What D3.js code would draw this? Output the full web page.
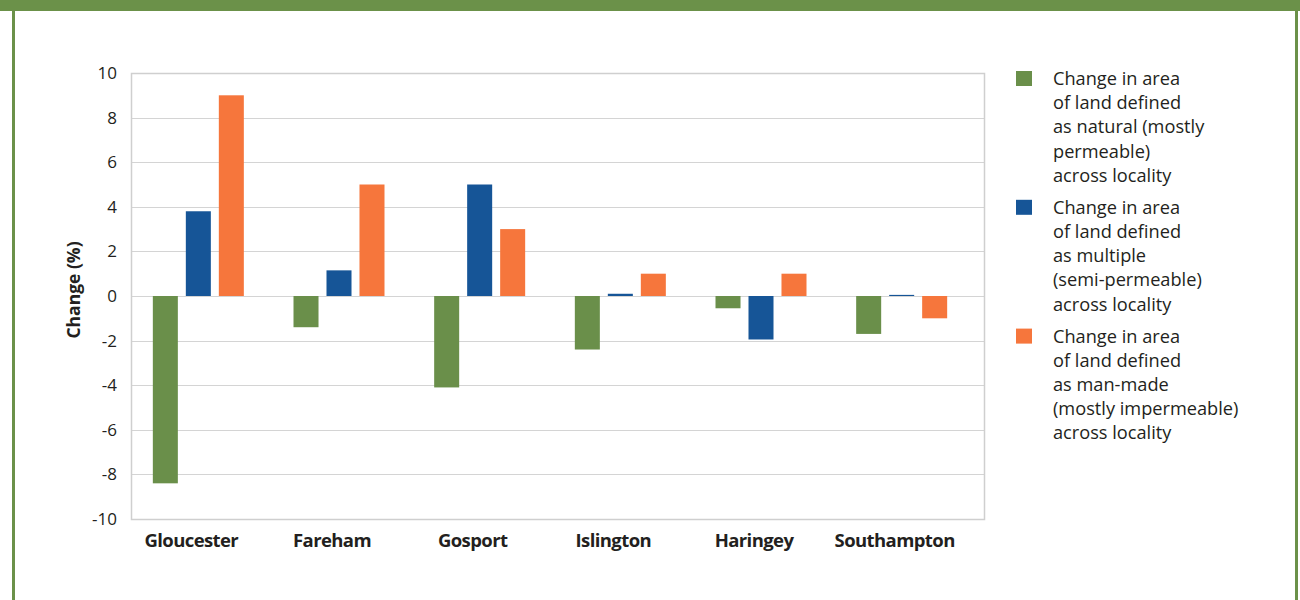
<!DOCTYPE html>
<html><head><meta charset="utf-8">
<script src="https://cdn.jsdelivr.net/npm/d3@7"></script>
<style>body{margin:0;background:#fff}svg{display:block}</style>
</head><body>
<svg id="chart" width="1300" height="600"></svg>
<script>
const categories = ["Gloucester","Fareham","Gosport","Islington","Haringey","Southampton"];
const seriesNames = ["natural","multiple","manmade"];
const natural  = [-8.4, -1.4, -4.1, -2.4, -0.55, -1.7];
const multiple = [3.8, 1.15, 5.0, 0.1, -1.95, 0.05];
const manmade  = [9.0, 5.0, 3.0, 1.0, 1.0, -1.0];
const yTicks = [-10,-8,-6,-4,-2,0,2,4,6,8,10];
const legendLines = [
  ["Change in area","of land defined","as natural (mostly","permeable)","across locality"],
  ["Change in area","of land defined","as multiple","(semi-permeable)","across locality"],
  ["Change in area","of land defined","as man-made","(mostly impermeable)","across locality"]
];
const colors = ["#6a8f4a","#165597","#f6763c"];
const seriesValues = [natural, multiple, manmade];

const svg = d3.select("#chart");
const frame = "#6b9149";
svg.append("rect").attr("x",0).attr("y",0).attr("width",1300).attr("height",11).attr("fill",frame);
svg.append("rect").attr("x",12).attr("y",0).attr("width",3).attr("height",600).attr("fill",frame);
svg.append("rect").attr("x",1295).attr("y",0).attr("width",3).attr("height",600).attr("fill",frame);

const plot = {l:131, r:984, t:73, b:519};
const y = d3.scaleLinear().domain([-10,10]).range([plot.b, plot.t]);
const x0 = d3.scaleBand().domain(categories).range([128, 972]);
const x1 = d3.scaleBand().domain(seriesNames).range([-45.5, 45.5]).paddingInner(0.242);

svg.append("g").selectAll("line").data(yTicks).join("line")
  .attr("x1",plot.l).attr("x2",plot.r)
  .attr("y1",d=>Math.round(y(d))+0.5).attr("y2",d=>Math.round(y(d))+0.5)
  .attr("stroke","#d4d4d4").attr("stroke-width",1.2);
svg.append("rect").attr("x",plot.l+0.5).attr("y",plot.t+0.5)
  .attr("width",plot.r-plot.l).attr("height",plot.b-plot.t)
  .attr("fill","none").attr("stroke","#cfcfcf").attr("stroke-width",1.5);

const yAxis = d3.axisLeft(y).tickValues(yTicks).tickFormat(d=>String(d)).tickSize(0).tickPadding(14);
const gy = svg.append("g").attr("transform",`translate(${plot.l},0)`).call(yAxis);
gy.select(".domain").remove();
gy.selectAll("text").attr("font-family","'Open Sans', sans-serif").attr("font-size",17).attr("fill","#231f20");

const groups = svg.append("g").selectAll("g").data(categories).join("g")
  .attr("transform",c=>`translate(${x0(c)+x0.bandwidth()/2},0)`);
groups.selectAll("rect").data((c,i)=>seriesNames.map((s,k)=>({s,k,v:seriesValues[k][i]}))).join("rect")
  .attr("x",d=>x1(d.s)).attr("width",x1.bandwidth())
  .attr("y",d=>y(Math.max(0,d.v))).attr("height",d=>Math.abs(y(d.v)-y(0)))
  .attr("fill",d=>colors[d.k]);

const xAxis = d3.axisBottom(d3.scaleBand().domain(categories).range([121, 965])).tickSize(0).tickPadding(15);
const gx = svg.append("g").attr("transform",`translate(0,${plot.b})`).call(xAxis);
gx.select(".domain").remove();
gx.selectAll("text").attr("font-family","'Open Sans', sans-serif").attr("font-weight","bold")
  .attr("font-size",18.5).attr("fill","#231f20").attr("letter-spacing","-0.6px");

svg.append("text").attr("transform","translate(80,290) rotate(-90)")
  .attr("text-anchor","middle").attr("font-family","'Open Sans', sans-serif")
  .attr("font-weight","bold").attr("font-size",17.5).attr("fill","#231f20").text("Change (%)");

const lineH = 24.2;
let ly = 85;
const lg = svg.append("g");
legendLines.forEach((lines,k)=>{
  lg.append("rect").attr("x",1016).attr("y",ly-14).attr("width",16).attr("height",15).attr("fill",colors[k]);
  lines.forEach((t,j)=>{
    lg.append("text").attr("x",1053).attr("y",ly+j*lineH)
      .attr("font-family","'Open Sans', sans-serif").attr("font-size",18.2).attr("fill","#231f20").text(t);
  });
  ly += lines.length*lineH + 7.8;
});
</script>
</body></html>
